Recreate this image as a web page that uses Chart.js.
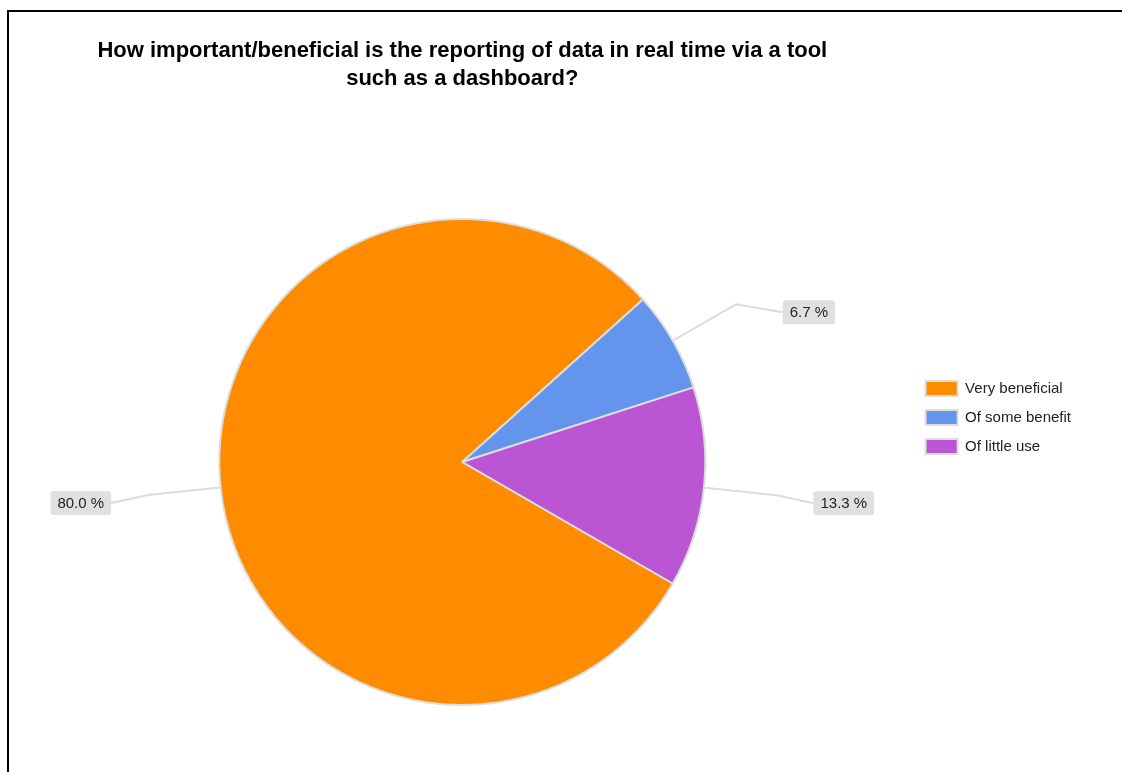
<!DOCTYPE html>
<html>
<head>
<meta charset="utf-8">
<style>
  html, body { margin: 0; padding: 0; background: #ffffff; }
  body { width: 1122px; height: 772px; position: relative; overflow: hidden; }
  #frame { position: absolute; left: 7px; top: 10px; right: -4px; bottom: -4px;
           border-left: 2px solid #000; border-top: 2px solid #000; }
  #wrap { position: absolute; left: 0; top: 0; width: 1122px; height: 772px; }
</style>
<script src="https://cdn.jsdelivr.net/npm/chart.js@4.4.1/dist/chart.umd.min.js"></script>
</head>
<body>
<div id="frame"></div>
<div id="wrap"><canvas id="chart" width="1122" height="772"></canvas></div>
<script>
// Survey answers and their shares of responses (percent)
const categories = ['Very beneficial', 'Of some benefit', 'Of little use'];
const shares = [80.0, 6.7, 13.3];
const sliceColors = ['#ff8c00', '#6495ed', '#ba55d3'];
const titleLines = [
  'How important/beneficial is the reporting of data in real time via a tool',
  'such as a dashboard?'
];

// Draws a leader line from each slice to a grey tag holding its percentage
const sliceTags = {
  id: 'sliceTags',
  afterDatasetsDraw(chart) {
    const ctx = chart.ctx;
    const meta = chart.getDatasetMeta(0);
    const values = chart.data.datasets[0].data;
    ctx.save();
    ctx.font = '15px "Liberation Sans", Arial, sans-serif';
    meta.data.forEach((arc, i) => {
      const p = arc.getProps(['x', 'y', 'startAngle', 'endAngle', 'outerRadius'], true);
      const mid = (p.startAngle + p.endAngle) / 2;
      const cos = Math.cos(mid), sin = Math.sin(mid);
      const r0 = p.outerRadius + 1;
      const r1 = p.outerRadius * 1.3;
      const r2 = p.outerRadius * 1.455;
      const sx = p.x + cos * r0, sy = p.y + sin * r0;
      const ex = p.x + cos * r1, ey = p.y + sin * r1;
      const right = cos >= 0;
      const by = ey + 8;
      const dy = by - p.y;
      const lx = p.x + (right ? 1 : -1) * Math.sqrt(Math.max(r2 * r2 - dy * dy, 0));
      const text = values[i].toFixed(1) + ' %';
      const tw = ctx.measureText(text).width;
      const bw = tw + 14, bh = 24;
      const bx = right ? lx : lx - bw;

      ctx.strokeStyle = '#dcdcdc';
      ctx.lineWidth = 2;
      ctx.beginPath();
      ctx.moveTo(sx, sy);
      ctx.lineTo(ex, ey);
      ctx.lineTo(lx, by);
      ctx.stroke();

      ctx.fillStyle = '#e0e0e0';
      ctx.beginPath();
      ctx.roundRect(bx, by - bh / 2, bw, bh, 3);
      ctx.fill();

      ctx.fillStyle = '#222222';
      ctx.textAlign = 'center';
      ctx.textBaseline = 'middle';
      ctx.fillText(text, bx + bw / 2, by + 1);
    });
    ctx.restore();
  }
};

new Chart(document.getElementById('chart'), {
  type: 'pie',
  data: {
    labels: categories,
    datasets: [{
      data: shares,
      backgroundColor: sliceColors,
      borderColor: '#dddddd',
      borderWidth: 2,
      radius: 243
    }]
  },
  options: {
    responsive: false,
    animation: false,
    rotation: 120,
    layout: { padding: { left: 13, right: 41, top: 12, bottom: 215 } },
    plugins: {
      tooltip: { enabled: false },
      title: {
        display: true,
        text: titleLines,
        fullSize: false,
        color: '#000000',
        font: { family: '"Liberation Sans", Arial, sans-serif', size: 22, weight: 'bold', lineHeight: '28px' },
        padding: { top: 25, bottom: 274 }
      },
      legend: {
        position: 'right',
        fullSize: false,
        align: 'start',
        labels: {
          boxWidth: 32,
          boxHeight: 15,
          padding: 14,
          color: '#222222',
          font: { family: '"Liberation Sans", Arial, sans-serif', size: 15 }
        }
      }
    }
  },
  plugins: [sliceTags]
});
</script>
</body>
</html>
